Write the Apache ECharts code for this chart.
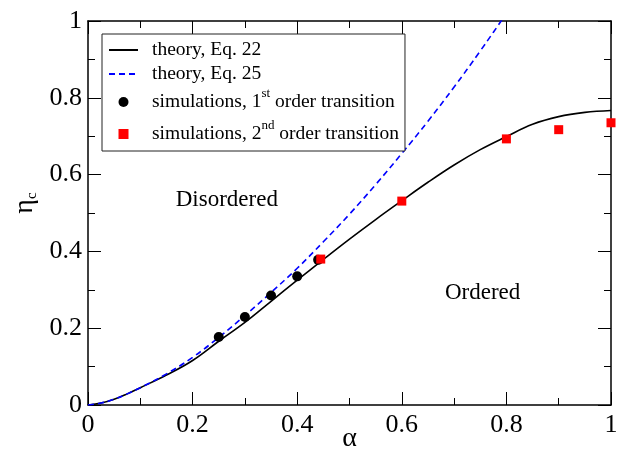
<!DOCTYPE html>
<html>
<head>
<meta charset="utf-8">
<script src="https://cdn.jsdelivr.net/npm/echarts@6/dist/echarts.min.js"></script>
<style>
  html, body { margin: 0; padding: 0; background: #fff; }
  #chart { width: 623px; height: 453px; }
</style>
</head>
<body>
<div id="chart"></div>
<script>
// Critical packing fraction eta_c versus alpha: two theory curves and simulation points.
const alphaGrid = [0, 0.025, 0.05, 0.075, 0.1, 0.15, 0.2, 0.25, 0.3, 0.35, 0.4, 0.45, 0.5,
                   0.55, 0.6, 0.65, 0.7, 0.75, 0.8, 0.85, 0.9, 0.95, 1.0];
// theory, Eq. 22
const eq22 = [0, 0.005, 0.015, 0.029, 0.045, 0.078, 0.116, 0.166, 0.215, 0.27, 0.325, 0.379, 0.432,
              0.483, 0.532, 0.58, 0.625, 0.665, 0.699, 0.731, 0.751, 0.762, 0.767];
// theory, Eq. 25 (runs off the top of the frame)
const eq25Alpha = [0, 0.025, 0.05, 0.075, 0.1, 0.15, 0.2, 0.25, 0.3, 0.35, 0.4, 0.45, 0.5,
                   0.55, 0.6, 0.65, 0.7, 0.75, 0.8, 0.85];
const eq25 = [0, 0.005, 0.015, 0.029, 0.045, 0.081, 0.124, 0.176, 0.233, 0.293, 0.356, 0.425, 0.497,
              0.574, 0.655, 0.739, 0.828, 0.922, 1.02, 1.12];
// simulations, first order transition
const sim1Alpha = [0.25, 0.30, 0.35, 0.40, 0.44];
const sim1Eta   = [0.177, 0.229, 0.285, 0.335, 0.378];
// simulations, second order transition
const sim2Alpha = [0.445, 0.6, 0.8, 0.9, 1.0];
const sim2Eta   = [0.380, 0.531, 0.693, 0.717, 0.735];
// axis ticks
const xTicks = [0, 0.2, 0.4, 0.6, 0.8, 1];
const yTicks = [0, 0.2, 0.4, 0.6, 0.8, 1];
// phase region names
const regionNames = ['Disordered', 'Ordered'];
const regionAt = [[0.2655, 0.533], [0.7545, 0.293]];

const seriesNames = ['theory, Eq. 22', 'theory, Eq. 25',
                     'simulations, 1st order transition', 'simulations, 2nd order transition'];
const legendText = {
  'theory, Eq. 22': 'theory, Eq. 22',
  'theory, Eq. 25': 'theory, Eq. 25',
  'simulations, 1st order transition': 'simulations, 1{sup|st} order transition',
  'simulations, 2nd order transition': 'simulations, 2{sup|nd} order transition'
};

const FONT = 'Liberation Serif';
const zip = (xs, ys) => xs.map((x, i) => [x, ys[i]]);

function axisCommon(showLabels) {
  return {
    type: 'value', min: 0, max: 1, interval: 0.2,
    axisLine: { show: true, onZero: false, lineStyle: { color: '#000', width: 1.5 } },
    axisTick: { show: true, inside: true, length: 13, lineStyle: { color: '#000', width: 1 } },
    minorTick: { show: true, splitNumber: 2, length: 7, lineStyle: { color: '#000', width: 1 } },
    splitLine: { show: false },
    minorSplitLine: { show: false },
    axisLabel: {
      show: showLabels, color: '#000', fontFamily: FONT, fontSize: 26,
      formatter: v => String(+v.toFixed(1))
    }
  };
}

const chart = echarts.init(document.getElementById('chart'), null, { renderer: 'canvas' });

chart.setOption({
  animation: false,
  backgroundColor: '#fff',
  grid: { left: 88, right: 12, top: 21, bottom: 48, containLabel: false, outerBoundsMode: 'none' },
  xAxis: [
    Object.assign(axisCommon(true), {
      position: 'bottom',
      name: 'α', nameLocation: 'middle', nameGap: 20, nameMoveOverlap: false,
      nameTextStyle: { color: '#000', fontFamily: FONT, fontSize: 28 },
      axisLabel: Object.assign(axisCommon(true).axisLabel, { margin: 7,
        customValues: xTicks })
    }),
    Object.assign(axisCommon(false), { position: 'top' })
  ],
  yAxis: [
    Object.assign(axisCommon(true), {
      position: 'left',
      name: 'η{sub|c}', nameLocation: 'middle', nameGap: 48, nameMoveOverlap: false,
      nameTextStyle: {
        color: '#000', fontFamily: FONT, fontSize: 28, padding: [0, 0, 0, 20],
        rich: { sub: { fontFamily: FONT, fontSize: 15, verticalAlign: 'bottom', lineHeight: 30 } }
      },
      axisLabel: Object.assign(axisCommon(true).axisLabel, { margin: 6,
        customValues: yTicks })
    }),
    Object.assign(axisCommon(false), { position: 'right' })
  ],
  legend: {
    orient: 'vertical',
    left: 102, top: 34,
    data: [
      { name: seriesNames[0], itemStyle: { opacity: 0 } },
      { name: seriesNames[1], itemStyle: { opacity: 0 } },
      { name: seriesNames[2], icon: 'circle' },
      { name: seriesNames[3], icon: 'path://M0,0H10V10H0Z' }
    ],
    backgroundColor: '#fff',
    borderColor: '#222', borderWidth: 1,
    padding: [5, 6, 2, 6],
    itemGap: 2,
    itemWidth: 29, itemHeight: 10,
    formatter: n => legendText[n],
    textStyle: {
      color: '#000', fontFamily: FONT, fontSize: 19.5, lineHeight: 22,
      padding: [0, 0, 0, 9],
      rich: { sup: { fontFamily: FONT, fontSize: 13, lineHeight: 30, verticalAlign: 'top' } }
    }
  },
  series: [
    {
      name: seriesNames[0], type: 'line', data: zip(alphaGrid, eq22),
      symbol: 'none', smooth: 0.4, clip: true,
      lineStyle: { color: '#000', width: 1.6 }, itemStyle: { color: '#000' }, z: 3
    },
    {
      name: seriesNames[1], type: 'line', data: zip(eq25Alpha, eq25),
      symbol: 'none', smooth: 0.4, clip: true,
      lineStyle: { color: '#0000ff', width: 1.6, type: [6, 4] }, itemStyle: { color: '#0000ff' }, z: 3
    },
    {
      name: seriesNames[2], type: 'scatter', data: zip(sim1Alpha, sim1Eta),
      symbol: 'circle', symbolSize: 10, clip: false,
      itemStyle: { color: '#000', opacity: 1 }, z: 4
    },
    {
      name: seriesNames[3], type: 'scatter', data: zip(sim2Alpha, sim2Eta),
      symbol: 'rect', symbolSize: 9, clip: false,
      itemStyle: { color: '#ff0000', opacity: 1 }, z: 5
    },
    {
      name: 'regions', type: 'scatter', silent: true,
      data: regionNames.map((n, i) => ({ name: n, value: regionAt[i] })),
      symbolSize: 0,
      itemStyle: { opacity: 1 },
      label: {
        show: true, position: 'inside', formatter: p => p.name,
        color: '#000', fontFamily: FONT, fontSize: 23
      }
    }
  ]
});
</script>
</body>
</html>
